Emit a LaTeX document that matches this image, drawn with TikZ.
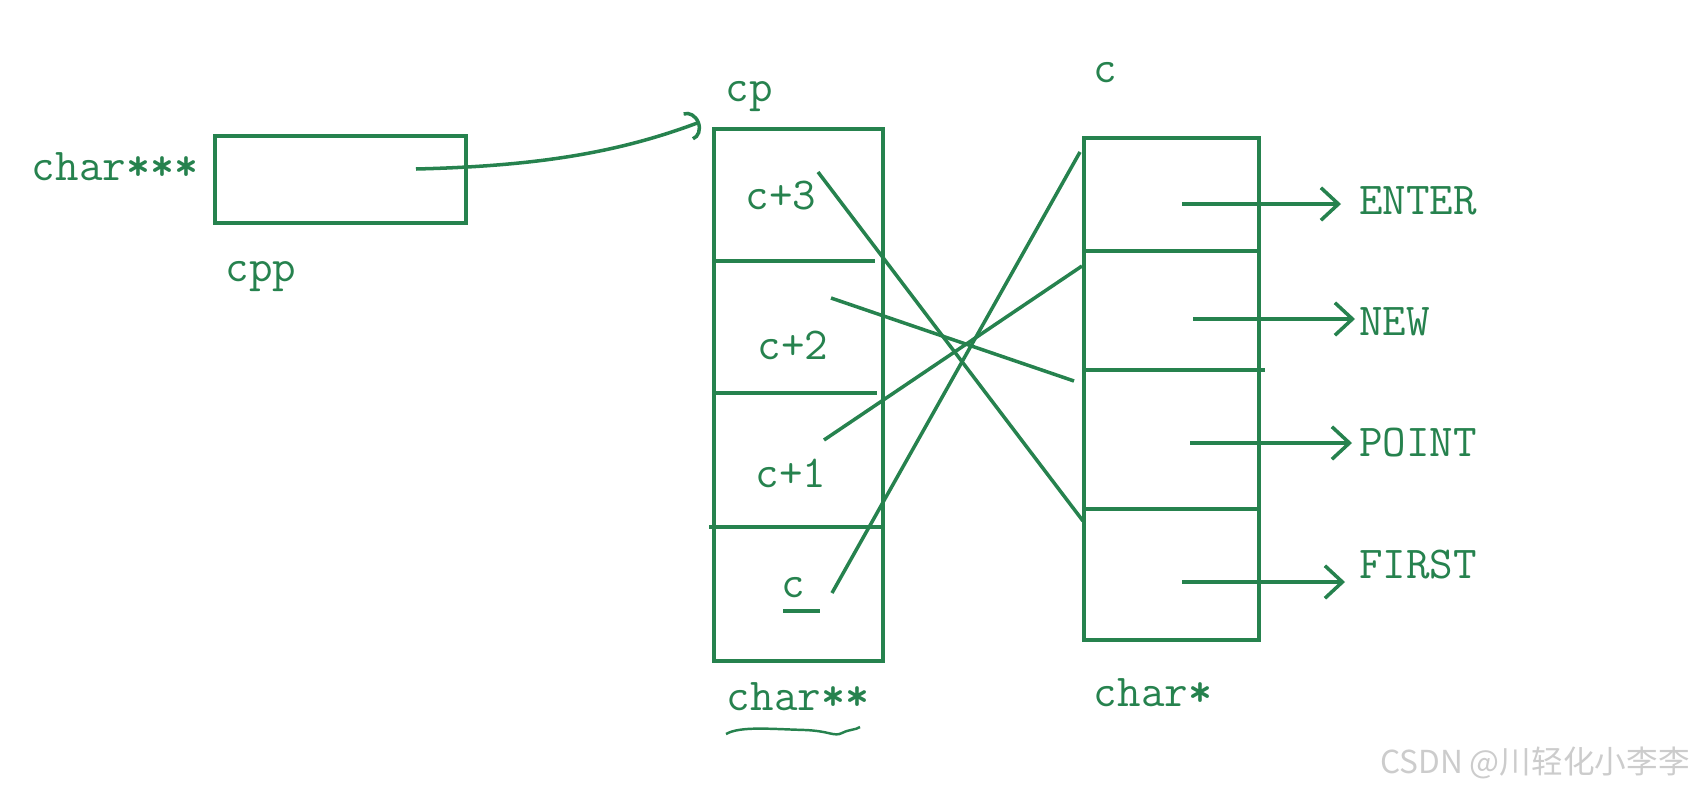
\documentclass[tikz,border=0pt]{standalone}
\usepackage{fontspec}
\newfontfamily\cjkfont{Noto Sans CJK SC}
\usepackage{xcolor}
\usetikzlibrary{arrows.meta}
\definecolor{ink}{RGB}{38,130,78}

\begin{document}
\begin{tikzpicture}[x=0.02cm,y=-0.02cm,
  txt/.style={text=ink,font=\ttfamily\fontsize{26}{28}\selectfont,inner sep=0pt},
  box/.style={draw=ink,line width=2.5pt,inner sep=0pt},
  sep/.style={draw=ink,line width=1.8pt},
  link/.style={draw=ink,line width=2pt},
  ptr/.style={link,-{Straight Barb[length=3.5mm,width=6.5mm,line width=2pt]}}]
\useasboundingbox (0,0) rectangle (1695,795);
% cpp: the char*** box
\node[box,minimum width=5.02cm,minimum height=1.74cm] (cpp) at (340.5,179.5) {};
\node[txt] (cpptype) at (115,167) {char\textbf{***}};
\node[txt] (cppname) at (261,277) {cpp};
% cp: the char** array
\node[box,minimum width=3.38cm,minimum height=10.64cm] (cp) at (798.5,395) {};
\node[txt] (cpname) at (749,97) {cp};
\draw[sep] (716,261) -- (875,261);
\draw[sep] (714,393) -- (877,393);
\draw[sep] (709,527) -- (881,527);
\node[txt] (l3) at (781,196) {c+3};
\node[txt] (l2) at (793,345) {c+2};
\node[txt] (l1) at (791,473) {c+1};
\node[txt] (l0) at (793,588) {c};
\draw[link] (783,611) -- (820,611);
\node[txt] (cptype) at (798,697) {char\textbf{**}};
\draw[ink,line width=1.4pt] (726,734) .. controls (740,726) and (770,729) .. (805,730)
  .. controls (830,731) and (834,737) .. (842,733) .. controls (850,729) and (856,730) .. (860,727);
% c: the char* array
\node[box,minimum width=3.5cm,minimum height=10.04cm] (cbox) at (1171.5,389) {};
\node[txt] (cname) at (1105,73) {c};
\draw[sep] (1084,251) -- (1259,251);
\draw[sep] (1084,370) -- (1265,370);
\draw[sep] (1084,509) -- (1259,509);
\node[txt] (ctype) at (1153,693) {char\textbf{*}};
% strings
\node[txt,anchor=west] (enter) at (1359,201) {ENTER};
\node[txt,anchor=west] (new) at (1359,322) {NEW};
\node[txt,anchor=west] (point) at (1359,443) {POINT};
\node[txt,anchor=west] (first) at (1359,565) {FIRST};
\coordinate (a0) at (1182,204);
\coordinate (a1) at (1193,319);
\coordinate (a2) at (1190,443);
\coordinate (a3) at (1182,582);
\draw[ptr] (a0) -- ([xshift=-0.36cm]a0 -| enter.west);
\draw[ptr] (a1) -- ([xshift=-0.08cm]a1 -| new.west);
\draw[ptr] (a2) -- ([xshift=-0.14cm]a2 -| point.west);
\draw[ptr] (a3) -- ([xshift=-0.28cm]a3 -| first.west);
% cp cells -> c cells
\coordinate (s3) at (818,172); \coordinate (e3) at (1083,521);
\coordinate (s2) at (831,298); \coordinate (e2) at (1074,381);
\coordinate (s1) at (824,440); \coordinate (e1) at (1082,266);
\coordinate (s0) at (832,593); \coordinate (e0) at (1080,152);
\draw[link] (s3) -- (e3);
\draw[link] (s2) -- (e2);
\draw[link] (s1) -- (e1);
\draw[link] (s0) -- (e0);
% cpp -> cp
\coordinate (q) at (416,169);
\coordinate (qtip) at (700,122);
\draw[link,-{Arc Barb[length=2.5mm,width=6mm,line width=2pt]}] (q) .. controls (540,166) and (620,152) .. (qtip);
\node[text=gray!40,font=\cjkfont\fontsize{18}{20}\selectfont,inner sep=0pt,anchor=east] (wm) at (1690,763) {CSDN @川轻化小李李};
\end{tikzpicture}
\end{document}
